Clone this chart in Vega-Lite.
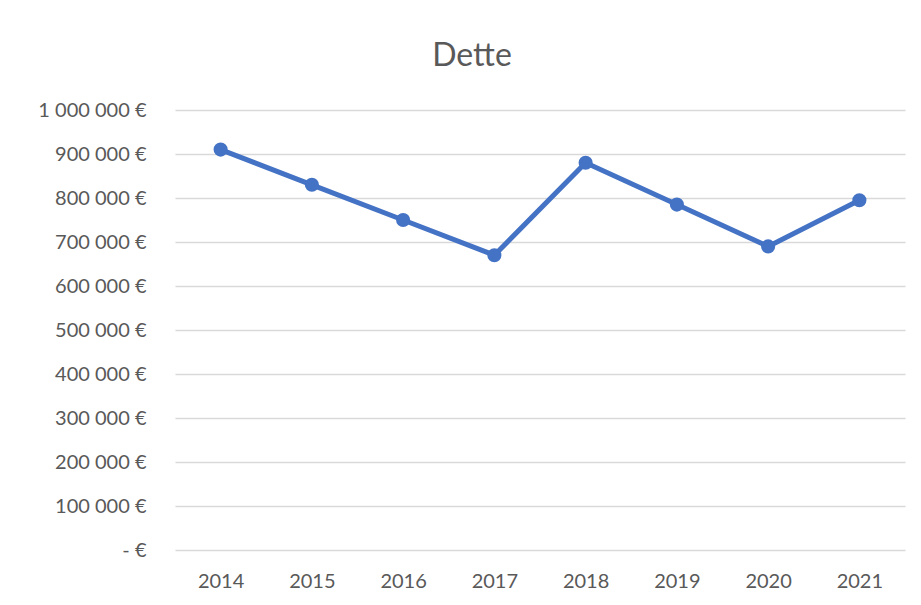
{
  "$schema": "https://vega.github.io/schema/vega-lite/v6.json",
  "autosize": "none",
  "width": 730,
  "height": 440,
  "padding": {"left": 175, "top": 110, "right": 16, "bottom": 55},
  "background": "white",
  "title": {
    "text": "Dette",
    "font": "Lato",
    "fontSize": 32,
    "fontWeight": "normal",
    "color": "#595959",
    "anchor": "middle",
    "frame": "group",
    "dx": -68,
    "baseline": "alphabetic",
    "offset": 44,
    "dy": 42
  },
  "data": {
    "values": [
      {"year": "2014", "dette": 910000},
      {"year": "2015", "dette": 830000},
      {"year": "2016", "dette": 750000},
      {"year": "2017", "dette": 670000},
      {"year": "2018", "dette": 880000},
      {"year": "2019", "dette": 785000},
      {"year": "2020", "dette": 690000},
      {"year": "2021", "dette": 795000}
    ]
  },
  "encoding": {
    "x": {
      "field": "year",
      "type": "ordinal",
      "scale": {"padding": 0.5},
      "axis": {
        "title": null,
        "labelAngle": 0,
        "labelFont": "Lato",
        "labelFontSize": 20,
        "labelColor": "#595959",
        "labelPadding": 21,
        "ticks": false,
        "domain": false,
        "grid": false
      }
    },
    "y": {
      "field": "dette",
      "type": "quantitative",
      "scale": {"domain": [0, 1000000], "nice": false},
      "axis": {
        "title": null,
        "values": [0, 100000, 200000, 300000, 400000, 500000, 600000, 700000, 800000, 900000, 1000000],
        "labelExpr": "datum.value == 0 ? '- €' : replace(format(datum.value, ','), regexp(',', 'g'), ' ') + ' €'",
        "labelFont": "Lato",
        "labelFontSize": 20,
        "labelColor": "#595959",
        "labelPadding": 29,
        "ticks": false,
        "domain": false,
        "grid": true,
        "gridColor": "#d9d9d9",
        "gridWidth": 1.5
      }
    }
  },
  "layer": [
    {"mark": {"type": "line", "color": "#4472C4", "strokeWidth": 5, "strokeCap": "round", "strokeJoin": "round"}},
    {"mark": {"type": "point", "filled": true, "color": "#4472C4", "opacity": 1, "size": 200}}
  ],
  "config": {"view": {"stroke": null}}
}
